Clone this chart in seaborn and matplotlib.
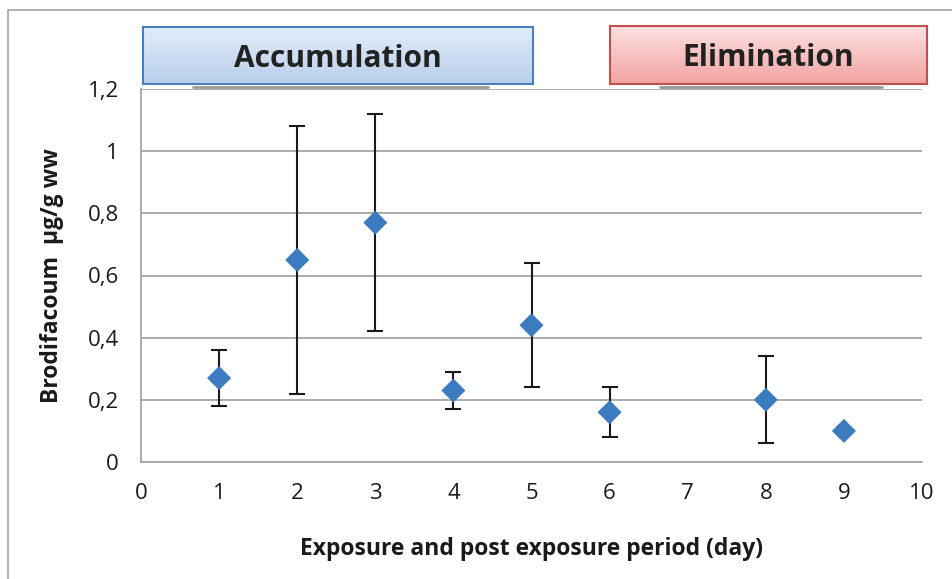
import numpy as np
import pandas as pd
import matplotlib
matplotlib.use("Agg")
import matplotlib.pyplot as plt
import seaborn as sns
from matplotlib.patches import Rectangle
from matplotlib.ticker import FuncFormatter

# data
days = [1, 2, 3, 4, 5, 6, 8, 9]
mean_conc = [0.27, 0.65, 0.77, 0.23, 0.44, 0.16, 0.20, 0.10]
err_low = [0.18, 0.22, 0.42, 0.17, 0.24, 0.08, 0.06, 0.09]
err_high = [0.36, 1.08, 1.12, 0.29, 0.64, 0.24, 0.34, 0.11]
x_ticks = [0, 1, 2, 3, 4, 5, 6, 7, 8, 9, 10]
y_ticks = [0, 0.2, 0.4, 0.6, 0.8, 1.0, 1.2]

df = pd.DataFrame({"day": days, "conc": mean_conc})

sns.set_style("white")
plt.rcParams["font.family"] = ["Open Sans", "DejaVu Sans"]

W, H = 952, 579
fig = plt.figure(figsize=(W / 100, H / 100), dpi=100)

# outer frame
fig.patches.append(Rectangle((8 / W, -0.05), 1.1, 1 - 10 / H + 0.05,
                             transform=fig.transFigure, fill=False,
                             edgecolor="#a6a6a6", lw=1.2, zorder=0))

ax = fig.add_axes([141 / W, 1 - 462 / H, (922 - 141) / W, (462 - 89) / H])

yerr = [np.array(mean_conc) - np.array(err_low), np.array(err_high) - np.array(mean_conc)]
ax.errorbar(days, mean_conc, yerr=yerr, fmt="none", ecolor="#1a1a1a",
            elinewidth=1.5, capsize=6, capthick=1.5, zorder=3)
sns.scatterplot(data=df, x="day", y="conc", marker="D", s=150, color="#3d7bc0",
                edgecolor="none", ax=ax, zorder=4)

ax.set_xlim(0, 10)
ax.set_ylim(0, 1.2)
ax.set_xticks(x_ticks)
ax.set_yticks(y_ticks)
fmt = FuncFormatter(lambda v, p: ("%g" % round(v, 2)).replace(".", ","))
ax.yaxis.set_major_formatter(fmt)
ax.yaxis.grid(True, color="#a6a6a6", lw=1.3)
ax.set_axisbelow(True)
for s in ["top", "right"]:
    ax.spines[s].set_visible(False)
for s in ["left", "bottom"]:
    ax.spines[s].set_color("#a6a6a6")
    ax.spines[s].set_linewidth(1.3)
ax.tick_params(axis="both", direction="out", length=6, width=1.3, color="#a6a6a6",
               labelsize=16, labelcolor="#1a1a1a")
ax.tick_params(axis="x", pad=9)
ax.tick_params(axis="y", pad=10)
ax.set_xlabel("Exposure and post exposure period (day)", fontsize=16.5, fontweight="bold",
              color="#1a1a1a", labelpad=24)
ax.set_ylabel("Brodifacoum  µg/g ww", fontsize=16.5, fontweight="bold",
              color="#1a1a1a", labelpad=17)


def label_box(x0, x1, y0, y1, text, top_col, bot_col, edge):
    bax = fig.add_axes([x0 / W, 1 - y1 / H, (x1 - x0) / W, (y1 - y0) / H])
    grad = np.linspace(0, 1, 64)[:, None, None]
    img = (1 - grad) * np.array(top_col) + grad * np.array(bot_col)
    bax.imshow(img, aspect="auto", extent=[0, 1, 0, 1])
    bax.set_xticks([])
    bax.set_yticks([])
    for sp in bax.spines.values():
        sp.set_color(edge)
        sp.set_linewidth(1.5)
    bax.text(0.5, 0.44, text, ha="center", va="center", fontsize=21.5,
             fontweight="bold", color="#222222", transform=bax.transAxes)
    # shadow line under the box
    fig.add_artist(plt.Line2D([(x0 + 50) / W, (x1 - 45) / W], [1 - (y1 + 3) / H] * 2,
                              color="#9a9a9a", lw=2, transform=fig.transFigure))


label_box(143, 533, 27, 84, "Accumulation",
          (0.89, 0.93, 0.98), (0.72, 0.81, 0.92), "#4a7fbd")
label_box(610, 927, 26, 84, "Elimination",
          (0.99, 0.88, 0.88), (0.95, 0.64, 0.64), "#c0504d")

fig.savefig("out.png", dpi=100)
